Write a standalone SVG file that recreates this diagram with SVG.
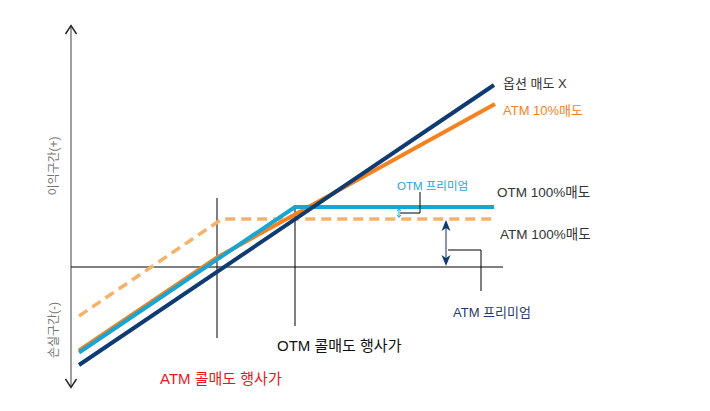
<svg xmlns="http://www.w3.org/2000/svg" width="710" height="411" viewBox="0 0 710 411">
<style>
text{font-family:"Liberation Sans","Noto Sans CJK KR",sans-serif;}
.ax{stroke:#000;stroke-width:1;fill:none}
.vax{stroke:#777;stroke-width:1.4;fill:none}
.navy{stroke:#0e3b72;stroke-width:4;fill:none}
.org{stroke:#f5821f;stroke-width:4;fill:none}
.cyan{stroke:#17a6d4;stroke-width:4;fill:none}
.dash{stroke:#f6b268;stroke-width:3.5;fill:none;stroke-dasharray:10 6}
.lead{stroke:#000;stroke-width:1;fill:none}
</style>
<g id="axes">
<line class="vax" x1="71" y1="26" x2="71" y2="387"/>
<path d="M65.5,34 L71,25.5 L76.5,34" fill="none" stroke="#222" stroke-width="1.4"/>
<path d="M65.5,379 L71,387.5 L76.5,379" fill="none" stroke="#222" stroke-width="1.4"/>
<line class="ax" x1="71" y1="267" x2="503" y2="267"/>
<line class="ax" x1="217" y1="198" x2="217" y2="338"/>
<line class="ax" x1="295" y1="205" x2="295" y2="326"/>
<text x="58" y="166" font-size="12" fill="#777" text-anchor="middle" transform="rotate(-90 58 166)">이익구간(+)</text>
<text x="58" y="330" font-size="12" fill="#777" text-anchor="middle" transform="rotate(-90 58 330)">손실구간(-)</text>
</g>
<g id="connectors">
<polyline class="dash" points="79,316 222,219 494,219"/>
<polyline class="org" points="79,350.5 217,257.5 495,104"/>
<polyline class="cyan" points="79,352.5 295,207 494,207"/>
<line class="navy" x1="79" y1="365" x2="494" y2="85"/>
<polyline class="lead" points="400,213 420,213 420,192"/>
<polyline class="lead" points="448,250 481,250 481,291"/>
<g id="otm-premium-arrow" stroke="#17a6d4" stroke-width="1" fill="none">
<line x1="399" y1="209" x2="399" y2="217"/>
<path d="M397,211 L399,208.5 L401,211"/>
<path d="M397,215 L399,217.5 L401,215"/>
</g>
<g id="atm-premium-arrow">
<line x1="446" y1="224" x2="446" y2="262" stroke="#3a4f7a" stroke-width="1.2"/>
<path d="M441.5,231 L446,220 L450.5,231 L446,228 Z" fill="#0e3b72"/>
<path d="M441.5,255 L446,266 L450.5,255 L446,258 Z" fill="#0e3b72"/>
</g>
</g>
<g id="label-option-x"><text x="503" y="88" font-size="13" fill="#333">옵션 매도 X</text></g>
<g id="label-atm10"><text x="503" y="115" font-size="13" fill="#f5821f">ATM 10%매도</text></g>
<g id="label-otm100"><text x="497" y="197" font-size="13.5" fill="#333">OTM 100%매도</text></g>
<g id="label-atm100"><text x="500" y="239" font-size="13.5" fill="#333">ATM 100%매도</text></g>
<g id="label-otm-prem"><text x="397" y="190" font-size="11.5" fill="#17a6d4">OTM 프리미엄</text></g>
<g id="label-atm-prem"><text x="453" y="317" font-size="13" fill="#1f3a6e">ATM 프리미엄</text></g>
<g id="label-otm-strike"><text x="277" y="351" font-size="15" fill="#111">OTM 콜매도 행사가</text></g>
<g id="label-atm-strike"><text x="160" y="384" font-size="15" fill="#e8161b">ATM 콜매도 행사가</text></g>
</svg>
